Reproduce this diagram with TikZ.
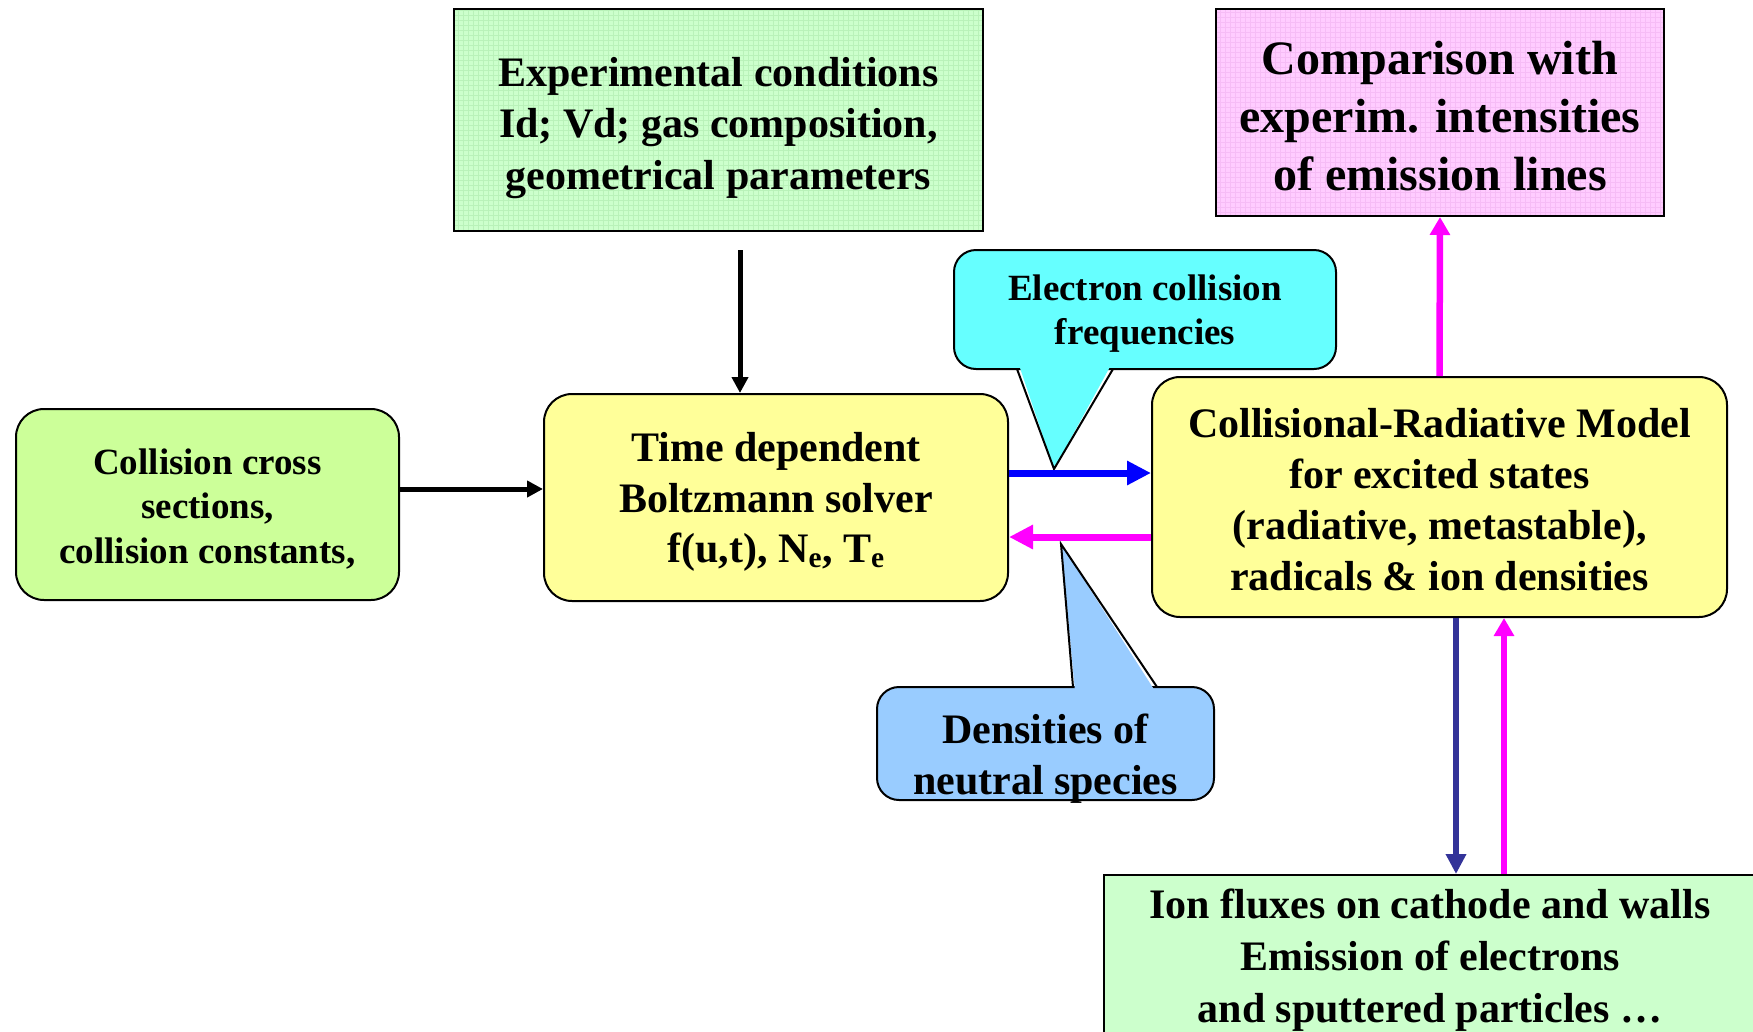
\documentclass[tikz,border=0pt]{standalone}
\usepackage{fontspec}
\setmainfont{Liberation Serif}
\usetikzlibrary{arrows.meta}
\definecolor{expgreen}{RGB}{204,255,204}
\definecolor{expgrid}{RGB}{185,242,185}
\definecolor{cmppink}{RGB}{255,204,255}
\definecolor{cmpgrid}{RGB}{246,188,246}
\definecolor{limefill}{RGB}{204,255,153}
\definecolor{lyellow}{RGB}{255,255,153}
\definecolor{cyanfill}{RGB}{102,255,255}
\definecolor{skyfill}{RGB}{153,204,255}
\definecolor{ionfill}{RGB}{204,255,204}
\definecolor{myblue}{RGB}{0,0,255}
\definecolor{mymag}{RGB}{255,0,255}
\definecolor{mynavy}{RGB}{51,51,153}
\newcommand{\myfs}[2]{\fontsize{#1}{#2}\selectfont\bfseries}
\begin{document}
\begin{tikzpicture}[x=1pt,y=-1pt,
  sqbox/.style={draw=black, line width=2pt, inner sep=0pt},
  rbox/.style={draw=black, line width=2pt, rounded corners=28pt, inner sep=0pt, fill=lyellow},
  callbox/.style={draw=black, line width=2pt, rounded corners=22pt, inner sep=0pt},
  txt/.style={align=center, inner sep=0pt},
  pointer/.style={draw=black, line width=2pt, line join=miter},
  blkarrow/.style={draw=black, line width=5pt, -{Triangle[length=16pt,width=16pt]}},
  bigarrow/.style={line width=7pt, -{Triangle[length=24pt,width=23pt]}},
  vmag/.style={draw=mymag, line width=6.5pt, -{Triangle[length=18pt,width=19.5pt]}},
  navyarrow/.style={draw=mynavy, line width=6.5pt, -{Triangle[length=20pt,width=19.5pt]}}
]
\useasboundingbox (0,0) rectangle (1753,1031);
\fill[white] (0,0) rectangle (1753,1031);

% boxes
\node[sqbox, fill=expgreen, minimum width=529pt, minimum height=222pt,
  path picture={\draw[expgrid, line width=0.4pt, step=5pt] (path picture bounding box.south west) grid (path picture bounding box.north east);}]
  (exp) at (718.5,120) {};
\node[txt, font=\myfs{42}{51.5}] (exptext) at ([yshift=-8pt]exp.center)
  {Experimental conditions\\Id; Vd; gas composition,\\geometrical parameters};

\node[sqbox, fill=cmppink, minimum width=448pt, minimum height=207pt,
  path picture={\draw[cmpgrid, line width=0.4pt, step=5pt] (path picture bounding box.south west) grid (path picture bounding box.north east);}]
  (cmp) at (1440,112.5) {};
\node[txt, font=\myfs{48}{58}] (cmptext) at ([yshift=-3.5pt]cmp.center)
  {Comparison with\\experim. intensities\\of emission lines};

\node[rbox, fill=limefill, minimum width=383pt, minimum height=191pt] (coll) at (207.5,504.5) {};
\node[txt, font=\myfs{37}{44.5}] (colltext) at ([yshift=-4.5pt]coll.center)
  {Collision cross\\sections,\\collision constants,};

\node[rbox, minimum width=464pt, minimum height=207pt] (tb) at (776,497.5) {};
\node[txt, font=\myfs{42}{50.5}] (tbtext) at ([yshift=-4.5pt]tb.center)
  {Time dependent\\Boltzmann solver\\f(u,t), N\textsubscript{e}, T\textsubscript{e}};

\node[rbox, minimum width=575pt, minimum height=240pt] (cr) at (1439.5,497) {};
\node[txt, font=\myfs{42}{51}] (crtext) at ([yshift=-2.5pt]cr.center)
  {Collisional-Radiative Model\\for excited states\\(radiative, metastable),\\radicals \& ion densities};

\node[sqbox, fill=ionfill, minimum width=652pt, minimum height=166pt] (ion) at (1430,958) {};
\node[txt, font=\myfs{42}{52}] (iontext) at ([yshift=-2.5pt]ion.center)
  {Ion fluxes on cathode and walls\\Emission of electrons\\and sputtered particles …};

% callout: electron collision frequencies
\node[callbox, fill=cyanfill, minimum width=382pt, minimum height=119pt] (ecf) at (1145,309.5) {};
\coordinate (ecbl) at (1017,369);
\coordinate (ecbr) at (1113,369);
\coordinate (ectip) at (1054,469);
\fill[cyanfill] (1019,365) -- (ectip) -- (1111,365) -- cycle;
\draw[pointer] (ecbl) -- (ectip) -- (ecbr);
\node[txt, font=\myfs{37}{44}] (ecftext) at ([yshift=-4.5pt]ecf.center) {Electron collision\\frequencies};

% callout: densities of neutral species
\node[callbox, fill=skyfill, minimum width=337pt, minimum height=113pt] (dns) at (1045.5,743.5) {};
\coordinate (dnbl) at (1073,687);
\coordinate (dnbr) at (1157,687);
\coordinate (dntip) at (1061,544);
\fill[skyfill] (1075,691) -- (dntip) -- (1155,691) -- cycle;
\draw[pointer] (dnbl) -- (dntip) -- (dnbr);
\node[txt, font=\myfs{42}{51}] (dnstext) at (1045.5,758.5) {Densities of\\neutral species};

% helper coordinates
\coordinate (xa) at (740,0);
\coordinate (ya) at (0,489);
\coordinate (yb) at (0,473);
\coordinate (yc) at (0,537);
\coordinate (xd) at (1456,0);
\coordinate (xe) at (1504,0);

% connectors
\draw[blkarrow, shorten <=18pt] (exp.south -| xa) -- (tb.north -| xa);
\draw[blkarrow] (coll.east |- ya) -- (tb.west |- ya);
\draw[bigarrow, draw=myblue, fill=myblue] (tb.east |- yb) -- (cr.west |- yb);
\draw[bigarrow, draw=mymag, fill=mymag] (cr.west |- yc) -- (tb.east |- yc);
\draw[vmag] (cr.north) -- (cmp.south);
\draw[navyarrow] (cr.south -| xd) -- (ion.north -| xd);
\draw[vmag] (ion.north -| xe) -- (cr.south -| xe);
\end{tikzpicture}
\end{document}
